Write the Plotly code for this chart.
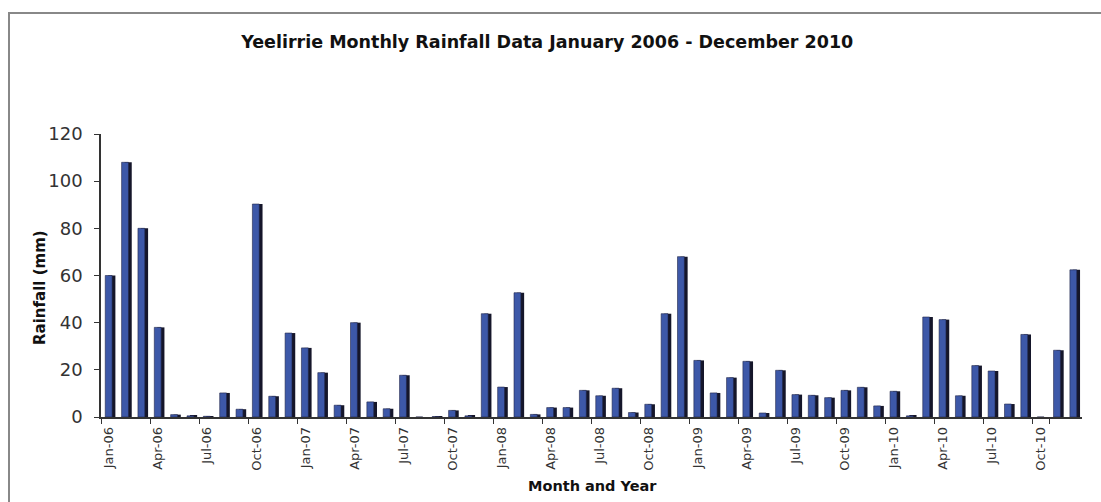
import plotly.graph_objects as go

months = [f"{m}-{y:02d}" for y in range(6, 11) for m in
          ["Jan", "Feb", "Mar", "Apr", "May", "Jun", "Jul", "Aug", "Sep", "Oct", "Nov", "Dec"]]

rainfall = [
    60, 108, 80, 38, 1, 0.5, 0.3, 10.2, 3.3, 90.3, 8.8, 35.6,
    29.3, 18.8, 5, 40, 6.4, 3.5, 17.7, 0, 0.2, 2.8, 0.5, 43.8,
    12.7, 52.7, 1.1, 4, 4, 11.3, 9, 12.2, 1.9, 5.4, 43.8, 68,
    24, 10.2, 16.7, 23.6, 1.7, 19.8, 9.5, 9.2, 8.2, 11.3, 12.6, 4.7,
    10.9, 0.5, 42.4, 41.3, 9, 21.8, 19.5, 5.5, 35, 0, 28.3, 62.4,
]

tick_labels = months[::3]

# plot-area pixel geometry (for placing text in paper coordinates)
L, R, T, B = 101, 1082, 134, 417
W, H = R - L, B - T


def px(x):
    return (x - L) / W


def py(y):
    return (B - y) / H


fig = go.Figure()
# dark "3D" side of each bar
fig.add_trace(go.Bar(x=months, y=rainfall, width=0.44, offset=-0.06,
                     marker=dict(color="#15162a", line=dict(width=0)),
                     hoverinfo="skip", showlegend=False))
# blue face of each bar
fig.add_trace(go.Bar(x=months, y=rainfall, width=0.42, offset=-0.24,
                     marker=dict(color="#3d58a8", line=dict(color="#22264a", width=0.6)),
                     name="Rainfall", showlegend=False))

fig.update_layout(
    width=1101, height=502,
    margin=dict(l=L, r=1101 - R, t=T, b=502 - B),
    paper_bgcolor="white", plot_bgcolor="white",
    barmode="overlay",
    font=dict(family="DejaVu Sans", color="#222"),
    title=dict(text="<b>Yeelirrie Monthly Rainfall Data January 2006 - December 2010</b>",
               x=0.497, xanchor="center", y=1 - 42 / 502, yanchor="middle",
               font=dict(size=17.5, color="#111")),
    xaxis=dict(
        type="category", categoryorder="array", categoryarray=months,
        tickmode="array", tickvals=tick_labels, ticktext=tick_labels,
        tickson="boundaries", ticks="outside", ticklen=5, tickcolor="#333",
        tickangle=-90, tickfont=dict(size=13, color="#333"), ticklabelstandoff=3,
        showline=True, linecolor="#333", linewidth=1.5,
        showgrid=False, range=[-0.5, 59.5],
    ),
    yaxis=dict(
        range=[0, 120], tickvals=[0, 20, 40, 60, 80, 100, 120],
        ticks="outside", ticklen=5, tickcolor="#333",
        tickfont=dict(size=18, color="#333"), ticklabelstandoff=8,
        showline=True, linecolor="#333", linewidth=1.5,
        showgrid=False, zeroline=False,
    ),
    annotations=[
        dict(text="<b>Month and Year</b>", xref="paper", yref="paper",
             x=px(592), y=py(486), xanchor="center", yanchor="middle",
             showarrow=False, font=dict(size=14.5, color="#111")),
        dict(text="<b>Rainfall (mm)</b>", xref="paper", yref="paper",
             x=px(40), y=py(288), xanchor="center", yanchor="middle", textangle=-90,
             showarrow=False, font=dict(size=15, color="#111")),
    ],
    shapes=[dict(type="rect", xref="paper", yref="paper",
                 x0=px(9), x1=px(1110), y0=py(510), y1=py(13),
                 line=dict(color="#888", width=2), layer="below")],
)

fig.write_html("out.html")
